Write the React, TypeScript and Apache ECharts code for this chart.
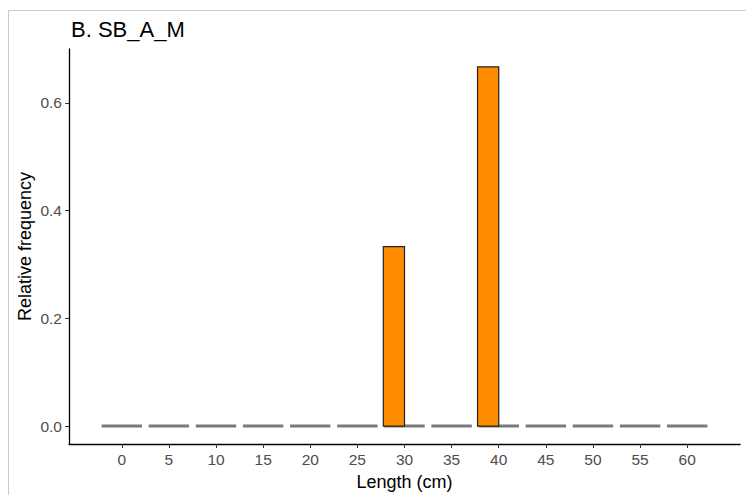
import React, { useEffect, useRef } from "react";
import * as echarts from "echarts";

const titleText = "B. SB_A_M";
const xAxisName = "Length (cm)";
const yAxisName = "Relative frequency";
const lengthBins = [0, 5, 10, 15, 20, 25, 30, 35, 40, 45, 50, 55, 60];
const relFreq = [0, 0, 0, 0, 0, 0, 0.3333, 0, 0.6667, 0, 0, 0, 0];
const yTicks = [0, 0.2, 0.4, 0.6];

const FONT = "'Liberation Sans', Arial, sans-serif";

export default function App() {
  const ref = useRef<HTMLDivElement>(null);
  useEffect(() => {
    if (!ref.current) return;
    const chart = echarts.init(ref.current, null, { renderer: "svg" });
    const data = lengthBins.map((x, i) => [x, relFreq[i]]);
    const halfW = 2.25;
    chart.setOption({
      animation: false,
      backgroundColor: "#ffffff",
      textStyle: { fontFamily: FONT },
      graphic: [
        {
          type: "rect",
          shape: { x: 8.5, y: 10.5, width: 760, height: 500 },
          style: { fill: "none", stroke: "#c9c9c9", lineWidth: 1 },
          silent: true,
          z: 0,
        },
        {
          type: "text",
          x: 71,
          y: 29,
          style: {
            text: titleText,
            fontSize: 22,
            fontFamily: FONT,
            fill: "#000000",
            verticalAlign: "middle",
            align: "left",
          },
        },
      ],
      grid: {
        left: 69,
        right: 6,
        top: 49,
        bottom: 51,
        containLabel: false,
        outerBoundsMode: "none",
      },
      xAxis: {
        type: "value",
        min: -5.6,
        max: 65.6,
        name: xAxisName,
        nameLocation: "middle",
        nameGap: 29,
        nameMoveOverlap: false,
        nameTextStyle: { fontSize: 18, color: "#000", fontFamily: FONT },
        axisLine: { show: true, onZero: false, lineStyle: { color: "#000", width: 1.3 } },
        axisTick: {
          show: true,
          length: 4,
          customValues: lengthBins,
          lineStyle: { color: "#333", width: 1 },
        },
        axisLabel: {
          customValues: lengthBins,
          fontSize: 15.5,
          color: "#4d4d4d",
          margin: 7,
          fontFamily: FONT,
        },
        splitLine: { show: false },
      },
      yAxis: {
        type: "value",
        min: -0.0333,
        max: 0.7,
        name: yAxisName,
        nameLocation: "middle",
        nameGap: 35,
        nameMoveOverlap: false,
        nameTextStyle: { fontSize: 18, color: "#000", fontFamily: FONT },
        axisLine: { show: true, onZero: false, lineStyle: { color: "#000", width: 1.3 } },
        axisTick: {
          show: true,
          length: 4,
          customValues: yTicks,
          lineStyle: { color: "#333", width: 1 },
        },
        axisLabel: {
          customValues: yTicks,
          fontSize: 15.5,
          color: "#4d4d4d",
          margin: 7,
          fontFamily: FONT,
          formatter: (v: number) => v.toFixed(1),
        },
        splitLine: { show: false },
      },
      series: [
        {
          type: "custom",
          data: data,
          z: 2,
          renderItem: (params: any, api: any) => {
            const x = api.value(0);
            const p1 = api.coord([x - halfW, 0]);
            const p2 = api.coord([x + halfW, 0]);
            return {
              type: "line",
              shape: { x1: p1[0] + 1, y1: p1[1], x2: p2[0] - 1, y2: p2[1] },
              style: { stroke: "#7a7a7a", lineWidth: 3 },
            };
          },
        },
        {
          type: "custom",
          data: data,
          z: 3,
          renderItem: (params: any, api: any) => {
            const x = api.value(0);
            const y = api.value(1);
            if (!y) return null;
            const tl = api.coord([x - halfW, y]);
            const br = api.coord([x, 0]);
            return {
              type: "rect",
              shape: { x: tl[0], y: tl[1], width: br[0] - tl[0], height: br[1] - tl[1] },
              style: { fill: "#FF8C00", stroke: "#222", lineWidth: 1.2 },
            };
          },
        },
      ],
    });
    return () => chart.dispose();
  }, []);
  return (
    <div
      ref={ref}
      style={{ position: "fixed", left: 0, top: 0, width: 746, height: 495 }}
    />
  );
}
